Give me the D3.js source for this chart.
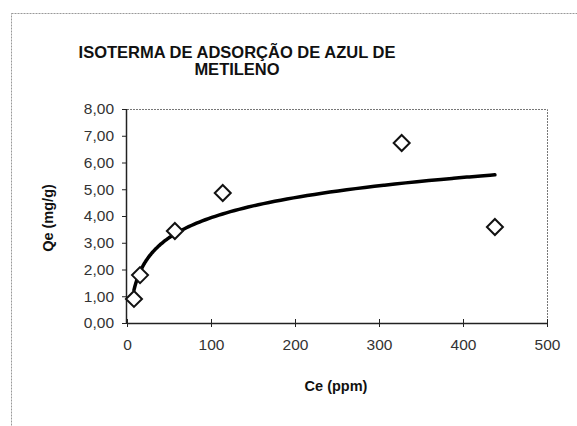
<!DOCTYPE html>
<html>
<head>
<meta charset="utf-8">
<script src="https://cdn.jsdelivr.net/npm/d3@7"></script>
<style>
  body { margin: 0; background: #fff; }
  text { font-family: "Liberation Sans", Arial, sans-serif; }
</style>
</head>
<body>
<svg id="main-svg"></svg>
<script>
// data
let ce = [8.3, 15.5, 57, 114, 327, 438];
let qe = [0.90, 1.79, 3.44, 4.86, 6.73, 3.59];
let xTicks = [0, 100, 200, 300, 400, 500];
let yTicks = [0, 1, 2, 3, 4, 5, 6, 7, 8];
let titleLines = ['ISOTERMA DE ADSORÇÃO DE AZUL DE', 'METILENO'];

let width = 577;
let height = 426;
let plot = { left: 127, top: 109, right: 547, bottom: 323 };

let svg = d3.select('#main-svg')
  .attr('width', width)
  .attr('height', height);

// chart area frame (cut off by the picture edges)
svg.append('rect')
  .attr('x', 11.5).attr('y', 13.5)
  .attr('width', width + 20).attr('height', height + 20)
  .style('fill', 'none')
  .style('stroke', '#999')
  .style('stroke-dasharray', '2,1');

let x = d3.scaleLinear().domain([0, 500]).range([plot.left, plot.right]);
let y = d3.scaleLinear().domain([0, 8]).range([plot.bottom, plot.top]);

// plot area border (top and right dotted)
svg.append('path')
  .attr('d', `M${plot.left},${plot.top + 0.5}H${plot.right + 0.5}V${plot.bottom}`)
  .style('fill', 'none')
  .style('stroke', '#777')
  .style('stroke-dasharray', '2,1');

let fmt = d => d3.format('.2f')(d).replace('.', ',');

let yAxis = svg.append('g')
  .attr('transform', `translate(${plot.left},0)`)
  .call(d3.axisLeft(y).tickValues(yTicks).tickFormat(fmt).tickSize(5).tickPadding(8));

let xAxis = svg.append('g')
  .attr('transform', `translate(0,${plot.bottom})`)
  .call(d3.axisBottom(x).tickValues(xTicks).tickSize(4).tickPadding(12));

xAxis.selectAll('.tick line').attr('y1', -4);

[xAxis, yAxis].forEach(a => {
  a.select('.domain').style('stroke', '#222').style('stroke-width', 1.5);
  a.selectAll('.tick line').style('stroke', '#222');
  a.selectAll('.tick text')
    .style('font-size', '15.5px')
    .style('fill', '#333')
    .style('font-family', '"Liberation Sans", Arial, sans-serif');
});
xAxis.select('.domain').attr('d', `M${plot.left},0.5H${plot.right}`);
yAxis.select('.domain').attr('d', `M-0.5,${plot.bottom}V${plot.top}`);

// logarithmic trendline (least squares on ln x)
let lx = ce.map(Math.log);
let mx = d3.mean(lx), my = d3.mean(qe);
let slope = d3.sum(lx, (v, i) => (v - mx) * (qe[i] - my)) / d3.sum(lx, v => (v - mx) ** 2);
let intercept = my - slope * mx;
let [xmin, xmax] = d3.extent(ce);
let fitPoints = d3.range(0, 101).map(i => {
  let cx = xmin * Math.pow(xmax / xmin, i / 100);
  return [x(cx), y(slope * Math.log(cx) + intercept)];
});

svg.append('path').datum(fitPoints)
  .attr('d', d3.line().curve(d3.curveMonotoneX))
  .style('fill', 'none')
  .style('stroke', '#000')
  .style('stroke-width', 3.5)
  .style('stroke-linecap', 'round');

// data markers
let diamond = 'M0,-8L8,0L0,8L-8,0Z';
svg.selectAll('.pt').data(ce.map((c, i) => [c, qe[i]]))
  .enter().append('path')
  .attr('class', 'pt')
  .attr('d', diamond)
  .attr('transform', d => `translate(${x(d[0])},${y(d[1])})`)
  .style('fill', '#fff')
  .style('stroke', '#111')
  .style('stroke-width', 2);

// title
svg.append('text')
  .attr('x', 237).attr('y', 58)
  .attr('text-anchor', 'middle')
  .style('font-size', '16.5px').style('font-weight', 'bold').style('fill', '#111')
  .selectAll('tspan').data(titleLines).enter().append('tspan')
  .attr('x', 237)
  .attr('dy', (d, i) => i ? 17 : 0)
  .text(d => d);

// axis titles
svg.append('text')
  .attr('x', 336).attr('y', 391)
  .attr('text-anchor', 'middle')
  .style('font-size', '14.5px').style('font-weight', 'bold').style('fill', '#111')
  .text('Ce (ppm)');

svg.append('text')
  .attr('transform', 'translate(53,218) rotate(-90)')
  .attr('text-anchor', 'middle')
  .style('font-size', '14.5px').style('font-weight', 'bold').style('fill', '#111')
  .text('Qe (mg/g)');
</script>
</body>
</html>
